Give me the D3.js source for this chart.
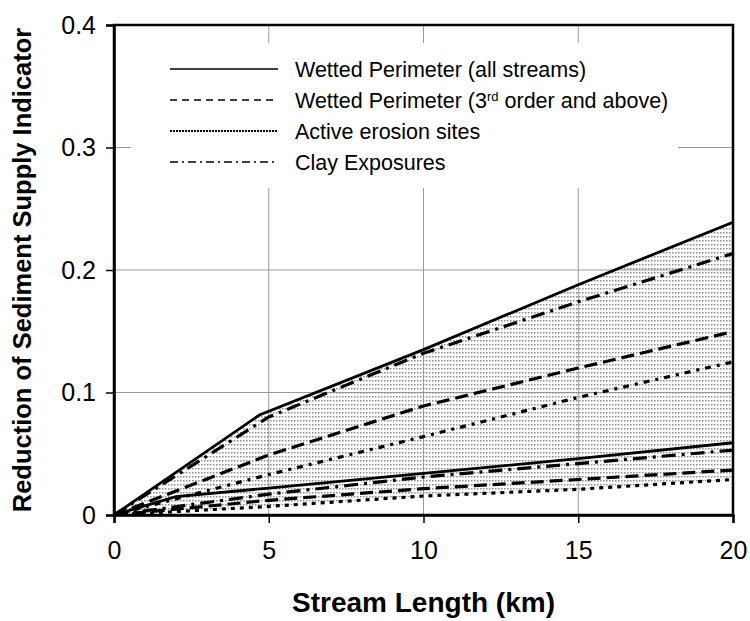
<!DOCTYPE html>
<html>
<head>
<meta charset="utf-8">
<script src="https://cdn.jsdelivr.net/npm/d3@7"></script>
<style>
  html, body { margin: 0; padding: 0; background: #fff; }
  svg { display: block; }
  text { font-family: "Liberation Sans", Arial, sans-serif; fill: #000; }
</style>
</head>
<body>
<svg id="chart" width="750" height="621"></svg>
<script>
// ---------- data ----------
const xTicks = [0, 5, 10, 15, 20];
const yTicks = [0, 0.1, 0.2, 0.3, 0.4];
const xTickLabels = ["0", "5", "10", "15", "20"];
const yTickLabels = ["0", "0.1", "0.2", "0.3", "0.4"];

const lengthKm = [0, 5, 10, 15, 20];
const lengthKmAllHigh = [0, 4.7, 10, 15, 20];
const lengthKmAllLow = [0, 2, 5, 10, 15, 20];

const wettedAllHigh = [0, 0.0816, 0.135, 0.188, 0.239];
const wettedAllLow = [0, 0.015, 0.022, 0.034, 0.046, 0.059];
const wetted3rdHigh = [0, 0.049, 0.089, 0.12, 0.1497];
const wetted3rdLow = [0, 0.012, 0.0215, 0.029, 0.0367];
const erosionHigh = [0, 0.033, 0.064, 0.096, 0.125];
const erosionLow = [0, 0.007, 0.0155, 0.021, 0.029];
const clayHigh = [0, 0.08, 0.132, 0.174, 0.2135];
const clayLow = [0, 0.017, 0.031, 0.042, 0.053];

const legendLabels = ["Wetted Perimeter (all streams)", "Wetted Perimeter (3rd order and above)", "Active erosion sites", "Clay Exposures"];

// ---------- layout ----------
const svg = d3.select("#chart");
const L = 114, R = 733, T = 25, B = 515;
const x = d3.scaleLinear().domain([0, 20]).range([L, R]);
const y = d3.scaleLinear().domain([0, 0.4]).range([B, T]);

const defs = svg.append("defs");
const pat = defs.append("pattern").attr("id", "dots").attr("patternUnits", "userSpaceOnUse")
  .attr("width", 3).attr("height", 4);
pat.append("rect").attr("x", 0).attr("y", 0).attr("width", 1.5).attr("height", 1.5).attr("fill", "#8a8a8a");
defs.append("clipPath").attr("id", "clip").append("rect")
  .attr("x", L).attr("y", T).attr("width", R - L).attr("height", B - T);

const zip = (xs, ys) => xs.map((v, i) => [v, ys[i]]);
const line = d3.line().x(d => x(d[0])).y(d => y(d[1]));

// gridlines
const grid = svg.append("g");
grid.selectAll("line.v").data(xTicks.slice(1, -1)).join("line")
  .attr("x1", d => x(d)).attr("x2", d => x(d)).attr("y1", T).attr("y2", B)
  .attr("stroke", "#9a9a9a").attr("stroke-width", 1);
grid.selectAll("line.h").data(yTicks.slice(1, -1)).join("line")
  .attr("x1", L).attr("x2", R).attr("y1", d => y(d)).attr("y2", d => y(d))
  .attr("stroke", "#9a9a9a").attr("stroke-width", 1);

const plot = svg.append("g").attr("clip-path", "url(#clip)");

// shaded band between highest and lowest curves
const upperPts = zip(lengthKmAllHigh, wettedAllHigh);
const lowerPts = zip(lengthKm, erosionLow).reverse();
plot.append("path")
  .attr("d", line(upperPts.concat(lowerPts)) + "Z")
  .attr("fill", "url(#dots)").attr("stroke", "none");

const series = [
  { xs: lengthKmAllHigh, ys: wettedAllHigh, dash: null, w: 2.8 },
  { xs: lengthKmAllLow, ys: wettedAllLow, dash: null, w: 2.8 },
  { xs: lengthKm, ys: wetted3rdHigh, dash: "13,6", w: 3.2 },
  { xs: lengthKm, ys: wetted3rdLow, dash: "13,6", w: 3.2 },
  { xs: lengthKm, ys: erosionHigh, dash: "6,6,3,6", w: 3.2 },
  { xs: lengthKm, ys: erosionLow, dash: "4,5", w: 3.2 },
  { xs: lengthKm, ys: clayHigh, dash: "14,6,3,6", w: 3.2 },
  { xs: lengthKm, ys: clayLow, dash: "14,6,3,6", w: 3.2 }
];
plot.selectAll("path.s").data(series).join("path")
  .attr("class", "s")
  .attr("d", d => line(zip(d.xs, d.ys)))
  .attr("fill", "none").attr("stroke", "#000")
  .attr("stroke-width", d => d.w)
  .attr("stroke-dasharray", d => d.dash);

// legend
const lg = svg.append("g");
lg.append("rect").attr("x", 131).attr("y", 43).attr("width", 547).attr("height", 145).attr("fill", "#fff");
const legendDash = [null, "7,5", "2,1", "8,4,2,4"];
const legendW = [1.5, 1.5, 2, 1.5];
legendLabels.forEach((lab, i) => {
  const cy = 69 + i * 31;
  lg.append("line").attr("x1", 170).attr("x2", 278).attr("y1", cy).attr("y2", cy)
    .attr("stroke", "#000").attr("stroke-width", legendW[i])
    .attr("stroke-dasharray", legendDash[i]);
  const t = lg.append("text").attr("x", 295).attr("y", cy + 7.5).attr("font-size", 21.5);
  if (i === 1) {
    t.append("tspan").text("Wetted Perimeter (3");
    t.append("tspan").attr("font-size", 13).attr("dy", -7).text("rd");
    t.append("tspan").attr("dy", 7).text(" order and above)");
  } else {
    t.text(lab);
  }
});

// frame
svg.append("rect").attr("x", L).attr("y", T).attr("width", R - L).attr("height", B - T)
  .attr("fill", "none").attr("stroke", "#000").attr("stroke-width", 2.5);

// axes
const xAxis = svg.append("g").attr("transform", `translate(0,${B})`)
  .call(d3.axisBottom(x).tickValues(xTicks).tickFormat((d, i) => xTickLabels[i]).tickSize(8).tickPadding(18));
const yAxis = svg.append("g").attr("transform", `translate(${L},0)`)
  .call(d3.axisLeft(y).tickValues(yTicks).tickFormat((d, i) => yTickLabels[i]).tickSize(8).tickPadding(10));
[xAxis, yAxis].forEach(g => {
  g.select(".domain").attr("stroke", "#000").attr("stroke-width", 2.5);
  g.selectAll(".tick line").attr("stroke", "#000").attr("stroke-width", 1.5);
  g.selectAll(".tick text").attr("font-size", 25).attr("font-family", "Liberation Sans, Arial, sans-serif").attr("fill", "#000");
});

// axis titles
svg.append("text").attr("x", (L + R) / 2).attr("y", 612).attr("text-anchor", "middle")
  .attr("font-size", 28).attr("font-weight", "bold").text("Stream Length (km)");
svg.append("text").attr("transform", `translate(31,${(T + B) / 2}) rotate(-90)`)
  .attr("text-anchor", "middle").attr("font-size", 25.5).attr("font-weight", "bold")
  .text("Reduction of Sediment Supply Indicator");
</script>
</body>
</html>
